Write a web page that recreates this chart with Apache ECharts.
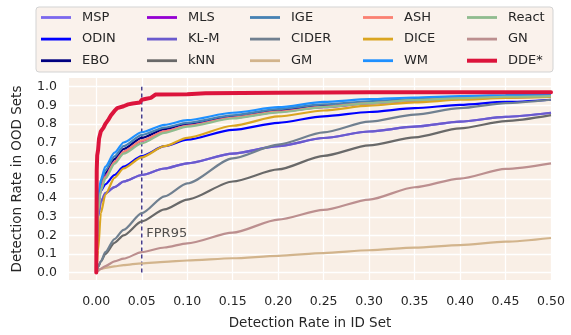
<!DOCTYPE html>
<html><head><meta charset="utf-8">
<script src="https://cdn.jsdelivr.net/npm/echarts@6/dist/echarts.min.js"></script>
<style>html,body{margin:0;padding:0;background:#fff}#c{width:571px;height:335px}</style>
</head><body><div id="c"></div>
<script>
// ---- data ----
const xTicks = [0, 0.05, 0.1, 0.15, 0.2, 0.25, 0.3, 0.35, 0.4, 0.45, 0.5];
const yTicks = [0, 0.1, 0.2, 0.3, 0.4, 0.5, 0.6, 0.7, 0.8, 0.9, 1.0];
const fpr = [0, 0.002, 0.005, 0.01, 0.02, 0.03, 0.05, 0.075, 0.1, 0.15, 0.2, 0.25, 0.3, 0.35, 0.4, 0.45, 0.5];
const MSP   = [0, 0.30, 0.38, 0.427, 0.46, 0.49, 0.525, 0.56, 0.588, 0.64, 0.68, 0.724, 0.759, 0.785, 0.812, 0.838, 0.86];
const ODIN  = [0, 0.38, 0.44, 0.475, 0.525, 0.57, 0.627, 0.68, 0.715, 0.768, 0.806, 0.841, 0.864, 0.885, 0.902, 0.918, 0.93];
const EBO   = [0, 0.37, 0.47, 0.535, 0.61, 0.665, 0.725, 0.772, 0.80, 0.84, 0.872, 0.897, 0.915, 0.928, 0.938, 0.945, 0.95];
const MLS   = [0, 0.36, 0.46, 0.52, 0.595, 0.65, 0.708, 0.76, 0.79, 0.833, 0.865, 0.89, 0.91, 0.925, 0.935, 0.943, 0.948];
const KLM   = [0, 0.30, 0.38, 0.427, 0.46, 0.49, 0.525, 0.56, 0.588, 0.64, 0.68, 0.724, 0.759, 0.785, 0.812, 0.838, 0.86];
const kNN   = [0, 0.03, 0.06, 0.10, 0.16, 0.20, 0.275, 0.34, 0.393, 0.49, 0.555, 0.628, 0.684, 0.728, 0.776, 0.815, 0.847];
const IGE   = [0, 0.38, 0.48, 0.55, 0.625, 0.68, 0.74, 0.78, 0.806, 0.846, 0.88, 0.905, 0.922, 0.934, 0.943, 0.95, 0.953];
const CIDER = [0, 0.03, 0.06, 0.11, 0.18, 0.23, 0.32, 0.41, 0.48, 0.615, 0.689, 0.754, 0.812, 0.85, 0.885, 0.912, 0.93];
const GM    = [0, 0.01, 0.02, 0.025, 0.033, 0.04, 0.05, 0.058, 0.065, 0.077, 0.09, 0.105, 0.12, 0.134, 0.148, 0.166, 0.186];
const ASH   = [0, 0.34, 0.45, 0.515, 0.595, 0.65, 0.71, 0.76, 0.79, 0.833, 0.866, 0.892, 0.912, 0.926, 0.937, 0.945, 0.95];
const DICE  = [0, 0.12, 0.32, 0.42, 0.51, 0.56, 0.62, 0.68, 0.725, 0.79, 0.84, 0.872, 0.898, 0.916, 0.93, 0.94, 0.945];
const WM    = [0, 0.40, 0.50, 0.57, 0.645, 0.70, 0.755, 0.795, 0.82, 0.86, 0.89, 0.918, 0.933, 0.942, 0.95, 0.955, 0.958];
const React = [0, 0.33, 0.44, 0.505, 0.585, 0.64, 0.695, 0.752, 0.785, 0.829, 0.862, 0.89, 0.912, 0.928, 0.938, 0.946, 0.95];
const GN    = [0, 0.01, 0.02, 0.035, 0.06, 0.075, 0.11, 0.135, 0.157, 0.215, 0.285, 0.337, 0.393, 0.459, 0.506, 0.558, 0.588];
const ddeX  = [0, 0.0005, 0.001, 0.002, 0.003, 0.005, 0.008, 0.01, 0.013, 0.016, 0.02, 0.023, 0.03, 0.035, 0.04, 0.048, 0.05, 0.055, 0.06, 0.065, 0.1, 0.12, 0.2, 0.3, 0.4, 0.5];
const ddeY  = [0, 0.55, 0.63, 0.66, 0.72, 0.76, 0.78, 0.80, 0.82, 0.845, 0.87, 0.885, 0.895, 0.905, 0.91, 0.915, 0.93, 0.935, 0.94, 0.958, 0.96, 0.965, 0.968, 0.97, 0.97, 0.97];
const fprLine = [0.05, 0.05];
const fprLineY = [0, 1];
const fprLabel = 'FPR95';
const fprLabelPos = [0.055, 0.212];

const methods = [
  ['MSP', MSP, '#7b68ee'], ['ODIN', ODIN, '#0000ff'], ['EBO', EBO, '#000080'],
  ['MLS', MLS, '#9400d3'], ['KL-M', KLM, '#6a5acd'], ['kNN', kNN, '#696969'],
  ['IGE', IGE, '#4682b4'], ['CIDER', CIDER, '#708090'], ['GM', GM, '#d2b48c'],
  ['ASH', ASH, '#fa8072'], ['DICE', DICE, '#daa520'], ['WM', WM, '#1e90ff'],
  ['React', React, '#8fbc8f'], ['GN', GN, '#bc8f8f']
];

const FONT = 'DejaVu Sans';
const TXT = '#262626';
const series = methods.map(([name, vals, color]) => ({
  name, type: 'line', showSymbol: false, symbol: 'none',
  data: fpr.map((x, i) => [x, vals[i]]),
  lineStyle: { color, width: 2.2 }, itemStyle: { color },
  smooth: 0.25, smoothMonotone: 'x'
}));
series.push({
  name: 'DDE*', type: 'line', showSymbol: false, symbol: 'none',
  data: ddeX.map((x, i) => [x, ddeY[i]]),
  lineStyle: { color: '#dc143c', width: 4, cap: 'round' }, itemStyle: { color: '#dc143c' }
});
series.push({
  name: 'fpr95', type: 'line', showSymbol: false, symbol: 'none', z: 1,
  data: fprLine.map((x, i) => [x, fprLineY[i]]),
  lineStyle: { color: '#483d8b', width: 1.5, type: [4, 3] }
});
series.push({
  name: 'fprText', type: 'scatter', symbolSize: 0, data: [fprLabelPos],
  label: { show: true, formatter: fprLabel, position: 'inside', align: 'left', verticalAlign: 'middle',
           color: TXT, fontSize: 13, fontFamily: FONT }
});

const names = methods.map(m => m[0]).concat(['DDE*']);
const cols = [0, 1, 2, 3, 4].map(c => names.slice(c * 3, c * 3 + 3));
const colLeft = [41, 147, 250, 363, 467];
const legends = cols.map((d, i) => ({
  data: d.map(n => ({ name: n, icon: n === 'DDE*' ? 'path://M0,0h30v4h-30z' : 'path://M0,0.6h30v2.8h-30z' })),
  orient: 'vertical', left: colLeft[i], top: 10.5, padding: 0,
  itemWidth: 30, itemHeight: 4, itemGap: 7.6,
  textStyle: { fontSize: 13, lineHeight: 14, fontFamily: FONT, color: TXT, padding: [0, 0, 0, 6] },
  selectedMode: false
}));

const chart = echarts.init(document.getElementById('c'), null, { renderer: 'canvas' });
chart.setOption({
  animation: false,
  backgroundColor: '#ffffff',
  graphic: [{
    type: 'rect', shape: { x: 36, y: 7, width: 517, height: 65, r: 3 }, z: -1,
    style: { fill: '#faf2ec', stroke: '#d3d3d3', lineWidth: 1 }
  }],
  legend: legends,
  grid: { left: 69, right: 20, top: 78, bottom: 49, show: true, backgroundColor: '#f9efe6', borderWidth: 0 },
  xAxis: {
    type: 'value', min: -0.03, max: 0.5,
    name: 'Detection Rate in ID Set', nameLocation: 'middle', nameGap: 36,
    nameTextStyle: { fontSize: 13.5, fontFamily: FONT, color: TXT },
    axisLine: { show: false }, axisTick: { show: false, customValues: xTicks },
    axisLabel: { customValues: xTicks, formatter: v => v.toFixed(2), fontSize: 12.5, fontFamily: FONT, color: TXT, margin: 15 },
    splitLine: { show: true, lineStyle: { color: '#ffffff', width: 1.3 } }
  },
  yAxis: {
    type: 'value', min: -0.04, max: 1.047,
    name: 'Detection Rate in OOD Sets', nameLocation: 'middle', nameGap: 45, nameRotate: 90,
    nameTextStyle: { fontSize: 13.5, fontFamily: FONT, color: TXT },
    axisLine: { show: false }, axisTick: { show: false, customValues: yTicks },
    axisLabel: { customValues: yTicks, formatter: v => v.toFixed(1), fontSize: 12.5, fontFamily: FONT, color: TXT, margin: 12 },
    splitLine: { show: true, lineStyle: { color: '#ffffff', width: 1.3 } }
  },
  series
});
</script></body></html>
